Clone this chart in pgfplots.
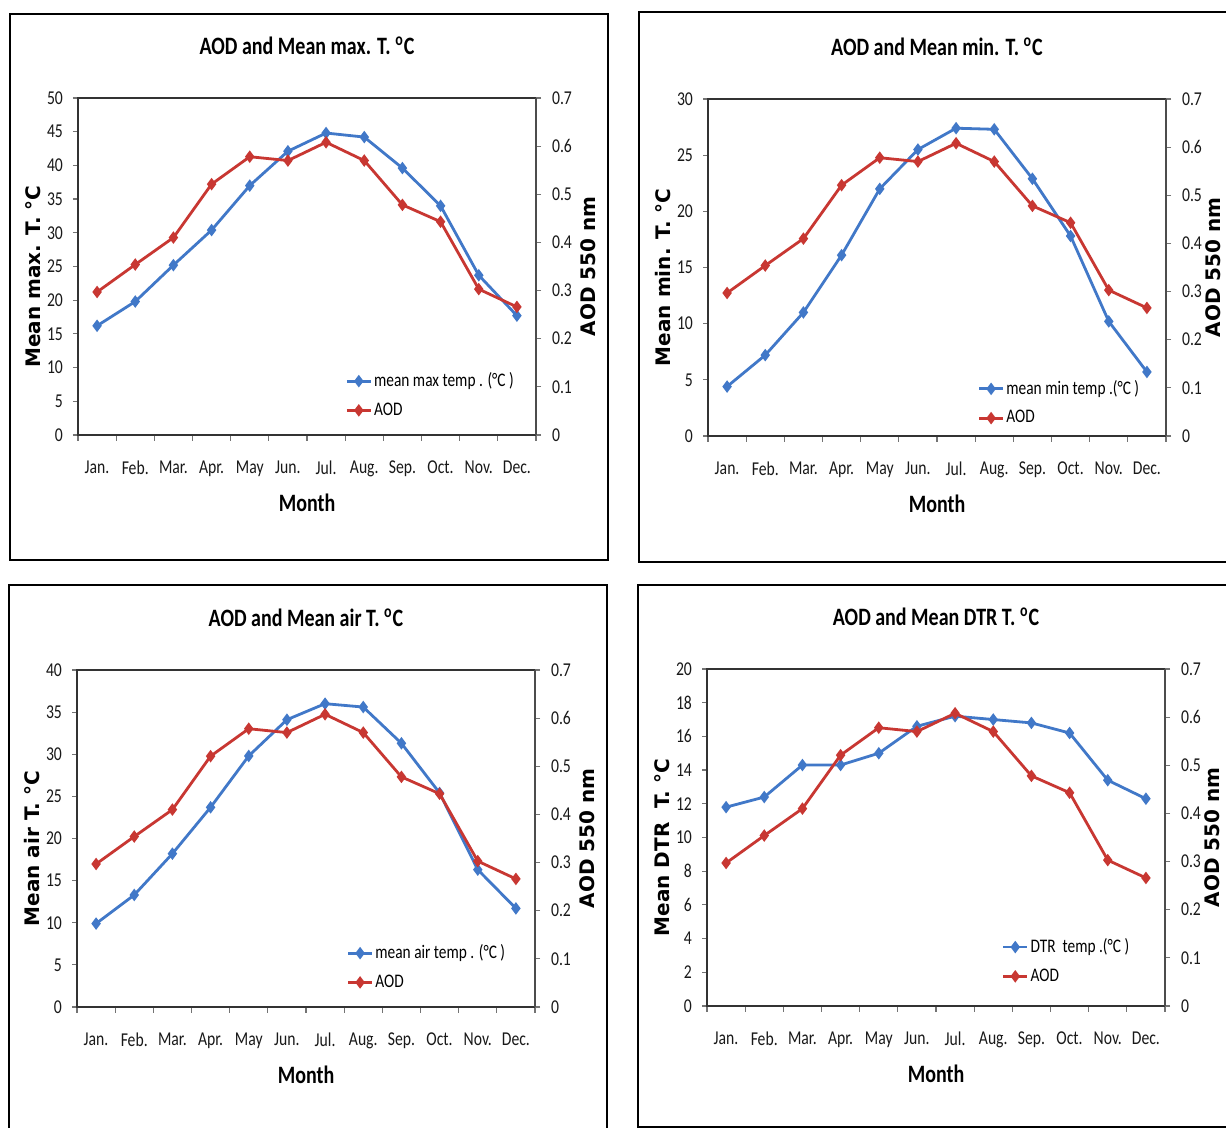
\documentclass[border=0pt]{standalone}
\usepackage{fontspec}
\setmainfont{Carlito}[FakeStretch=0.8]
\newfontfamily\labfont{DejaVu Sans}
\usepackage{pgfplots}
\pgfplotsset{compat=1.18}
\definecolor{lblue}{RGB}{65,120,200}
\definecolor{lred}{RGB}{200,55,50}

\pgfplotsset{
  common/.style={
    scale only axis, width=229pt, height=168.5pt,
    xmin=0.5, xmax=12.5, ymin=0,
    tick align=outside, major tick length=2.5pt, minor tick length=3pt,
    tick style={black!55, line width=0.6pt},
    ticklabel style={font=\fontsize{9.8}{11}\selectfont, text=black!90},
    /pgf/number format/assume math mode=true,
  },
  panelL/.style={
    common,
    axis line style={black!80, line width=1pt},
    xtick={1,...,12},
    xticklabels={Jan.,Feb.,Mar.,Apr.,May,Jun.,Jul.,Aug.,Sep.,Oct.,Nov.,Dec.},
    major x tick style={draw=none},
    minor xtick={0.5,1.5,...,12.5},
    xtick pos=bottom, ytick pos=left,
    xticklabel style={yshift=-7pt},
    yticklabel style={xshift=-1.5pt},
    xlabel={Month},
    xlabel style={at={(axis description cs:0.5,-0.2)}, anchor=center, font=\bfseries\fontsize{12.5}{14}\selectfont},
    ylabel style={at={(axis description cs:-0.099,0.47)}, anchor=center, font=\labfont\bfseries\fontsize{10}{12}\selectfont},
    title style={at={(axis description cs:0.5,1.12)}, anchor=center, font=\bfseries\fontsize{12.5}{14}\selectfont},
  },
  panelR/.style={
    common,
    ymax=0.7,
    axis x line=none, axis y line*=right,
    axis line style={-}, y axis line style={-, black!70, line width=0.8pt},
    ytick={0,0.1,0.2,0.3,0.4,0.5,0.6,0.7},
    yticklabel style={xshift=2pt, /pgf/number format/fixed, /pgf/number format/precision=1},
    ylabel={AOD 550 nm},
    ylabel style={at={(axis description cs:1.113,0.5)}, anchor=center, rotate=0, font=\labfont\bfseries\fontsize{10}{12}\selectfont},
    legend style={anchor=north west, draw=none, fill=none, font=\fontsize{9.6}{11}\selectfont, row sep=2.5pt, nodes={inner xsep=1pt}},
    legend cell align=left,
    legend image code/.code={\draw[mark repeat=2,mark phase=2,##1] plot coordinates {(0cm,0cm) (0.21cm,0cm) (0.42cm,0cm)};},
  },
  bl/.style={color=lblue, line width=1.4pt, mark=diamond*, mark size=2pt, mark options={solid}},
  rd/.style={color=lred, line width=1.4pt, mark=diamond*, mark size=2pt, mark options={solid}},
}

\begin{document}
\begin{tikzpicture}
\useasboundingbox (0,0) rectangle (613pt,564pt);
\fill[white] (0,0) rectangle (613pt,564pt);
% frames
\draw[line width=1.3pt] (5pt,284pt) rectangle (304pt,557pt);
\draw[line width=1.3pt] (319.5pt,283pt) rectangle (616pt,558pt);
\draw[line width=1.3pt] (4.5pt,-5pt) rectangle (303.5pt,271.5pt);
\draw[line width=1.3pt] (319pt,0.5pt) rectangle (616pt,271.5pt);

% ---------- Panel 1: max T ----------
\begin{axis}[panelL, at={(39pt,346.5pt)}, anchor=south west,
  ymax=50, ytick={0,5,...,50},
  title={AOD and Mean max. T. \textsuperscript{o}C},
  ylabel={Mean max. T. °C}]
\addplot[bl] coordinates {(1,16.2)(2,19.8)(3,25.2)(4,30.4)(5,37.0)(6,42.1)(7,44.8)(8,44.2)(9,39.6)(10,34.0)(11,23.7)(12,17.7)};
\end{axis}
\begin{axis}[panelR, at={(39pt,346.5pt)}, anchor=south west,
  legend style={at={(0.57,0.21)}}]
\addlegendimage{bl}
\addlegendentry{mean max temp . (°C )}
\addplot[rd] coordinates {(1,0.297)(2,0.354)(3,0.410)(4,0.521)(5,0.578)(6,0.570)(7,0.608)(8,0.570)(9,0.478)(10,0.443)(11,0.303)(12,0.266)};
\addlegendentry{AOD}
\end{axis}

% ---------- Panel 2: min T ----------
\begin{axis}[panelL, at={(354pt,346pt)}, anchor=south west,
  ymax=30, ytick={0,5,...,30},
  title={AOD and Mean min. T. \textsuperscript{o}C},
  ylabel={Mean min. T. °C}]
\addplot[bl] coordinates {(1,4.4)(2,7.2)(3,11.0)(4,16.1)(5,22.0)(6,25.5)(7,27.4)(8,27.3)(9,22.9)(10,17.8)(11,10.2)(12,5.7)};
\end{axis}
\begin{axis}[panelR, at={(354pt,346pt)}, anchor=south west,
  ylabel style={at={(axis description cs:1.103,0.5)}},
  legend style={at={(0.575,0.19)}}]
\addlegendimage{bl}
\addlegendentry{mean min temp .(°C )}
\addplot[rd] coordinates {(1,0.297)(2,0.354)(3,0.410)(4,0.521)(5,0.578)(6,0.570)(7,0.608)(8,0.570)(9,0.478)(10,0.443)(11,0.303)(12,0.266)};
\addlegendentry{AOD}
\end{axis}

% ---------- Panel 3: air T ----------
\begin{axis}[panelL, at={(38.5pt,60.5pt)}, anchor=south west,
  ymax=40, ytick={0,5,...,40},
  title={AOD and Mean air T. \textsuperscript{o}C},
  ylabel={Mean air T. °C}]
\addplot[bl] coordinates {(1,9.9)(2,13.3)(3,18.2)(4,23.7)(5,29.8)(6,34.1)(7,36.0)(8,35.6)(9,31.3)(10,25.4)(11,16.3)(12,11.7)};
\end{axis}
\begin{axis}[panelR, at={(38.5pt,60.5pt)}, anchor=south west,
  legend style={at={(0.575,0.21)}}]
\addlegendimage{bl}
\addlegendentry{mean air temp . (°C )}
\addplot[rd] coordinates {(1,0.297)(2,0.354)(3,0.410)(4,0.521)(5,0.578)(6,0.570)(7,0.608)(8,0.570)(9,0.478)(10,0.443)(11,0.303)(12,0.266)};
\addlegendentry{AOD}
\end{axis}

% ---------- Panel 4: DTR ----------
\begin{axis}[panelL, at={(353.5pt,61pt)}, anchor=south west,
  ymax=20, ytick={0,2,...,20},
  title={AOD and Mean DTR T. \textsuperscript{o}C},
  ylabel={Mean DTR\ \ T. °C}]
\addplot[bl] coordinates {(1,11.8)(2,12.4)(3,14.3)(4,14.3)(5,15.0)(6,16.6)(7,17.2)(8,17.0)(9,16.8)(10,16.2)(11,13.4)(12,12.3)};
\end{axis}
\begin{axis}[panelR, at={(353.5pt,61pt)}, anchor=south west,
  ylabel style={at={(axis description cs:1.103,0.5)}},
  legend style={at={(0.63,0.225)}}]
\addlegendimage{bl}
\addlegendentry{DTR\ \ temp .(°C )}
\addplot[rd] coordinates {(1,0.297)(2,0.354)(3,0.410)(4,0.521)(5,0.578)(6,0.570)(7,0.608)(8,0.570)(9,0.478)(10,0.443)(11,0.303)(12,0.266)};
\addlegendentry{AOD}
\end{axis}
\end{tikzpicture}
\end{document}
